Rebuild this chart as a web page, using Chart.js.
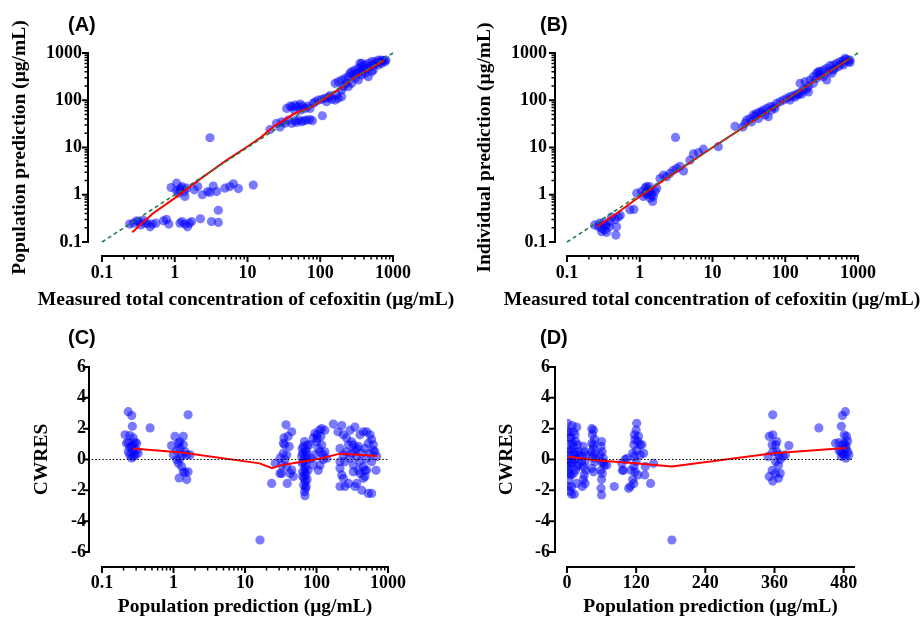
<!DOCTYPE html>
<html>
<head>
<meta charset="utf-8">
<script src="https://cdn.jsdelivr.net/npm/chart.js@4.4.1/dist/chart.umd.min.js"></script>
<style>
  html, body { margin: 0; padding: 0; background: #fff; }
  #wrap { position: relative; width: 923px; height: 618px; }
  canvas { position: absolute; }
</style>
</head>
<body>
<div id="wrap">
  <canvas id="panelA" width="461" height="309" style="left:0;top:0"></canvas>
  <canvas id="panelB" width="462" height="309" style="left:461px;top:0"></canvas>
  <canvas id="panelC" width="461" height="309" style="left:0;top:309px"></canvas>
  <canvas id="panelD" width="462" height="309" style="left:461px;top:309px"></canvas>
</div>
<script>
// tick labels
const logTicks = [0.1, 1, 10, 100, 1000];
const cwresTicks = [-6, -4, -2, 0, 2, 4, 6];
const predTicks = [0, 120, 240, 360, 480];

// (A) measured vs population prediction
const popPredA = [
    [0.24,0.24],[0.27,0.25],[0.30,0.28],[0.32,0.27],[0.34,0.23],[0.37,0.29],[0.39,0.25],[0.42,0.25],
    [0.46,0.21],[0.49,0.24],[0.55,0.25],[0.70,0.28],[0.83,0.24],[0.77,0.30],[1.18,0.25],[1.26,0.27],
    [1.38,0.24],[1.50,0.21],[1.59,0.25],[1.71,0.27],[2.25,0.31],[3.2,0.27],[3.97,0.26],[3.97,0.47],
    [0.89,1.42],[1.06,1.76],[1.18,1.27],[1.26,1.49],[1.35,1.17],[1.12,1.08],[1.38,0.92],[1.21,1.38],
    [1.46,1.38],[1.06,1.23],[1.86,1.27],[2.07,1.49],[2.39,1.0],[2.83,1.17],[3.05,1.12],[3.38,1.53],
    [3.77,1.17],[4.9,1.38],[5.7,1.49],[6.4,1.7],[7.5,1.35],[12.0,1.6],[3.05,16.1],
    [20.4,24],[25,32.5],[28,27],[29.5,35],[32.7,32.5],[36.4,38],[40.5,32.5],[45,37],[47,34],[51,38],
    [55.6,35],[60,37],[65,38],[72,39],[78,37],[107,47],
    [34.5,67],[38.5,75],[41,73],[45,79],[49,73],[53,83],[57,75],[62,67],[67,75],[72,67],[44,62],[54,62],[80,86],
    [85,93],[94,101],[105,105],[116,110],[129,116],[144,105],[160,101],[177,110],[197,119],[122,93],[168,130],[136,125],
    [160,228],[177,247],[197,268],[208,194],[219,291],[231,228],[243,316],[256,371],[270,402],[285,343],
    [300,437],[317,371],[334,474],[352,402],[371,514],[391,437],[412,557],[435,474],[458,604],[483,514],
    [509,655],[537,557],[566,655],[597,604],[629,711],[663,655],[699,711],[737,690],[776,655],[371,604],
    [412,371],[458,316],[509,402],[243,194],[270,228],[197,165],[300,291],[334,268],[371,343],[629,557],
    [699,604],[800,711],[537,437],[352,604]
];
const trendA = [[0.26,0.16],[0.5,0.4],[1,0.85],[2,1.9],[3.3,3.3],[5,5.2],[10,10.5],[15,16],[23,28],[45,53],[70,68],[100,95],[190,180],[300,310],[500,480],[750,700]];

// (B) measured vs individual prediction
const indPredB = [
    [0.24,0.23],[0.27,0.21],[0.30,0.195],[0.33,0.18],[0.35,0.23],[0.39,0.27],[0.41,0.34],[0.46,0.30],
    [0.47,0.14],[0.48,0.21],[0.51,0.34],[0.54,0.37],[0.30,0.165],[0.35,0.16],[0.38,0.21],[0.28,0.25],
    [0.32,0.26],[0.33,0.23],[0.73,0.48],[0.83,0.49],
    [0.91,1.08],[1.06,1.17],[1.18,1.38],[1.24,1.49],[1.31,1.27],[1.38,1.17],[1.46,1.0],[1.50,0.72],
    [1.38,0.85],[1.12,0.92],[1.21,1.08],[1.62,1.17],[1.71,1.38],[1.35,1.49],[1.54,0.92],[1.26,1.0],
    [1.9,2.2],[2.11,2.6],[2.34,2.4],[2.6,2.85],[2.89,3.3],[3.21,3.6],[3.57,4.0],[4.0,3.2],[4.9,5.4],
    [5.45,7.3],[6.4,7.8],[7.5,9.2],[12,10.4],[3.1,16.3],[20.4,28],[26,27],[28,32.5],
    [29.5,38],[32.7,41],[36.4,49],[40.5,53],[45,57],[50,62],[55.6,67],[61.7,73],[68.6,73],[76,86],[85,93],
    [34.5,35],[43,41],[53,49],[58.5,45],[47.5,55],[38.5,46],[65,62],[72,67],
    [94,101],[105,110],[116,119],[129,125],[144,135],[160,145],[177,165],[197,170],[116,101],[152,130],
    [136,116],[168,135],[208,150],
    [160,228],[187,247],[219,268],[243,316],[270,371],[285,402],[300,343],[334,437],[371,474],[391,402],
    [412,540],[458,557],[483,474],[509,604],[566,655],[597,590],[629,690],[699,730],[737,655],[776,711],
    [663,770],[334,316],[371,268],[435,371],[243,228],[300,402],[537,514],[629,557],[776,630],[458,437],
    [270,291],[208,194]
];
const trendB = [[0.26,0.21],[0.5,0.42],[1,0.92],[3,2.9],[10,10],[30,30],[100,100],[300,300],[750,740]];
const identityLine = [[0.1,0.1],[1000,1000]];

// (C) population prediction (log) vs CWRES
const cwresC = [
    [0.233,3.1],[0.26,2.85],[0.266,2.15],[0.21,1.6],[0.245,1.55],[0.22,1.05],[0.233,0.5],[0.245,0.3],
    [0.26,0.1],[0.274,0.95],[0.29,1.1],[0.305,0.6],[0.32,0.4],[0.274,1.4],[0.26,0.85],[0.29,0.3],
    [0.27,0.55],[0.305,1.05],[0.245,0.78],[0.233,1.1],[0.274,0.2],[0.47,2.05],
    [0.94,0.9],[1.05,1.5],[1.17,1.05],[1.23,0.72],[1.37,1.5],[1.3,0.3],[0.995,0.3],[1.11,0.0],
    [1.17,-0.25],[1.23,0.08],[1.3,-0.45],[1.37,-0.8],[1.2,-1.2],[1.45,-0.85],[1.53,-1.3],[1.6,-0.8],
    [1.53,0.3],[1.6,2.9],[1.7,0.3],[1.11,0.6],[1.45,0.5],[1.23,1.15],[1.37,0.95],
    [16.2,-5.22],
    [23.6,-1.55],[26.5,-0.25],[30.9,-0.9],[32.5,-0.35],[34.4,0.4],[35,1.4],[37.5,2.25],[36,0.95],
    [38.3,-0.45],[40,1.5],[42.6,-0.9],[45,1.8],[47.4,-1.1],[39,-1.55],[34.4,1.05],[32.5,-0.9],[36,0.0],
    [41.5,0.85],[38.3,0.3],[30.9,0.1],[45,-0.68],
    [68,1.16],[66,0.85],[70,0.6],[64,0.4],[71.5,0.3],[68,0.08],[66,-0.14],[70.5,-0.36],[69,-0.57],
    [64,-0.8],[71,-1.0],[67,-1.22],[70,-1.44],[66,-1.65],[70.5,-1.87],[68,-2.09],[69,-2.35],[73,0.5],
    [62,0.2],[75,0.0],[63,-0.25],[76,-0.7],[64,-1.1],[74,-1.3],[71.5,-1.75],[63,0.72],[75,0.95],[69.5,-0.8],
    [81,0.95],[90,1.4],[95,1.7],[102,1.6],[110,1.9],[118,2.0],[131,1.9],[100,1.15],[106,0.72],[112,0.5],
    [95,0.3],[118,0.95],[124,0.3],[131,0.5],[106,-0.7],[112,-0.36],[85,0.08],[90,-0.36],[124,0.0],
    [139,0.08],[102,1.37],[115,1.5],
    [172,2.3],[225,2.2],[200,1.8],[237,1.6],[264,1.4],[294,1.9],[310,1.15],[327,0.95],[345,2.1],[365,0.72],
    [406,1.6],[452,1.8],[503,1.8],[560,1.6],[590,1.3],[623,0.95],[655,0.5],[694,0.2],[680,-0.7],
    [213,0.72],[237,0.3],[250,-0.14],[264,0.5],[280,0.95],[294,0.08],[310,0.4],[327,-0.36],[345,0.6],
    [365,0.2],[385,0.85],[406,-0.14],[430,0.4],[452,-0.45],[477,0.72],[503,0.08],[530,1.05],[560,0.4],
    [590,-0.14],[623,0.6],[503,-0.7],[213,-0.14],
    [213,-0.57],[225,-1.0],[213,-1.75],[250,-1.75],[280,-1.55],[345,-1.75],[365,-1.55],[406,-0.9],
    [430,-2.0],[452,-1.22],[477,-0.7],[530,-2.2],[590,-2.2],[385,-0.7],[477,-1.1],[327,-0.8],[237,-1.22]
];
const trendC = [[0.27,0.72],[1.3,0.45],[16,-0.25],[24,-0.57],[31,-0.38],[47,-0.25],[110,0.05],[215,0.38],[500,0.28],[700,0.22]];
const zeroLineC = [[0.072,0],[1000,0]];

// (D) population prediction (linear) vs CWRES
const cwresD = [
    [1,2.35],[3.5,1.8],[5,1.4],[2.3,0.95],[7,0.6],[3.5,0.3],[1,0.0],[5,-0.36],[2.3,-0.7],[7,-1.0],
    [3.5,-1.3],[2.3,-1.75],[5,-2.05],[8,-2.25],[12.7,-2.25],[11,1.8],[14,1.6],[16.8,2.1],[15,1.16],
    [18.5,0.95],[11,0.85],[19.7,0.5],[12.7,0.3],[16.8,0.08],[9,-0.25],[19.7,-0.36],[15,-0.7],[11,-0.9],
    [16.8,-1.55],[8,-1.75],[7,1.4],[9,1.05],[2.3,0.5],[6,-0.14],[11.5,0.0],[0,-0.45],[4.5,-0.9],[14,0.5],
    [17,-0.45],[21,0.3],[0,1.8],[9,2.2],
    [28,0.85],[30,0.5],[26.6,0.2],[31.3,-0.14],[28.4,-0.45],[32.5,-0.7],[30,-1.0],[28.4,-1.3],
    [31.3,-1.55],[26.6,-1.75],[34,0.3],[25.5,-0.14],
    [43,2.0],[46,1.9],[44,1.6],[48,1.3],[43,1.05],[46,0.72],[48.7,0.4],[44,0.2],[48,-0.14],[43,-0.57],
    [46,-0.8],[48.7,0.08],[42,0.5],[46,0.95],
    [60,1.16],[59,0.85],[61,0.5],[57.5,0.3],[63,0.08],[60,-0.14],[65,-0.36],[59,-0.7],[61,-0.9],
    [60,-1.3],[59,-1.87],[60,-2.3],[63,-0.25],[69,-0.36],
    [82,-1.75],
    [95,-0.25],[98,-0.7],[101,0.0],[104,0.08],[107,-1.87],[110,-1.75],[111,-0.7],[114,0.4],[116,0.95],
    [117,1.6],[120,1.9],[121,2.35],[118,1.3],[123,1.16],[124,1.5],[127,0.95],[121,0.6],[117,0.2],
    [120,-0.14],[116,-0.45],[118,-0.8],[123,-1.0],[116,-1.55],[114,-1.3],[130,0.95],[133,0.4],
    [136,-0.45],[135,-1.0],[145,-1.55],[150,-0.25],[96,-0.7],[127,0.3],
    [182,-5.22],
    [357,2.9],[351,1.5],[357,1.6],[349,0.2],[356,0.95],[362,0.95],[364,0.5],[357,0.5],[367,0.3],
    [370,0.0],[362,-0.14],[367,-0.36],[356,-0.7],[362,-0.9],[351,-1.1],[357,-1.4],[367,-1.22],
    [370,-0.9],[379,0.3],[385,0.9],[375,0.2],[364,1.16],
    [437,2.05],
    [483,3.1],[478,2.85],[476,2.15],[481,1.6],[485,1.5],[466,1.05],[472,1.1],[479,0.95],[484,0.72],
    [487,1.2],[475,0.5],[481,0.3],[489,0.3],[476,0.2],[484,0.08],[472,0.6],[481,1.05],[487,0.5],
    [478,0.4],[484,0.9]
];
const trendD = [[2,0.18],[50,-0.05],[118,-0.25],[182,-0.45],[358,0.4],[484,0.74]];
const zeroLineD = [[0,0],[498,0]];

const serif = '"Liberation Serif", "Times New Roman", serif';
const tickFont = { family: serif, size: 18, weight: 'bold' };
const titleFont = { family: serif, size: 19.5, weight: 'bold', lineHeight: 1 };

const toXY = (pairs) => pairs.map(([x, y]) => ({ x, y }));

// Prism-style detached axes with outward ticks
const prismAxes = {
    id: 'prismAxes',
    afterDatasetsDraw(chart, args, opts) {
        const { ctx, chartArea, scales } = chart;
        const xs = scales.x;
        const ys = scales.y;
        const axisX = chartArea.left - opts.yGap;
        const axisY = chartArea.bottom + opts.xGap;

        ctx.save();
        ctx.strokeStyle = '#000';
        ctx.lineWidth = 2;
        ctx.beginPath();
        ctx.moveTo(axisX, ys.top - 1);
        ctx.lineTo(axisX, ys.bottom + 1);
        ctx.moveTo(xs.left - 1, axisY);
        ctx.lineTo(xs.right + 1, axisY);
        ctx.stroke();

        const drawTicks = (scale, values, len, width) => {
            ctx.lineWidth = width;
            ctx.beginPath();
            values.forEach((v) => {
                const p = scale.getPixelForValue(v);
                if (scale === xs) {
                    ctx.moveTo(p, axisY);
                    ctx.lineTo(p, axisY + len);
                } else {
                    ctx.moveTo(axisX, p);
                    ctx.lineTo(axisX - len, p);
                }
            });
            ctx.stroke();
        };
        const minorOf = (majors) => {
            const out = [];
            for (let i = 0; i < majors.length - 1; i++) {
                for (let k = 2; k <= 9; k++) out.push(majors[i] * k);
            }
            return out;
        };

        const xMajor = xs.ticks.map((t) => t.value);
        const yMajor = ys.ticks.map((t) => t.value);
        drawTicks(xs, xMajor, 6, 2);
        drawTicks(ys, yMajor, 6, 2);
        if (opts.xMinor) drawTicks(xs, minorOf(xMajor), 3.5, 1.5);
        if (opts.yMinor) drawTicks(ys, minorOf(yMajor), 3.5, 1.5);
        ctx.restore();
    },
};

// panel letter, plus a long x title that must not be squeezed to the axis width
const panelText = {
    id: 'panelText',
    afterDraw(chart, args, opts) {
        const ctx = chart.ctx;
        ctx.save();
        ctx.fillStyle = '#000';
        ctx.font = 'bold 20px "Liberation Sans", Arial, sans-serif';
        ctx.textAlign = 'left';
        ctx.textBaseline = 'alphabetic';
        ctx.fillText(opts.letter, opts.lx, opts.ly);
        if (opts.xTitle) {
            ctx.font = 'bold 19.5px ' + serif;
            ctx.textAlign = 'center';
            ctx.textBaseline = 'middle';
            ctx.fillText(opts.xTitle, opts.tx, opts.ty);
        }
        ctx.restore();
    },
};

Chart.register(prismAxes, panelText);

function pointSet(pairs) {
    return {
        data: toXY(pairs),
        backgroundColor: 'rgba(0, 0, 255, 0.52)',
        borderWidth: 0,
        pointRadius: 4.6,
        pointHoverRadius: 4.6,
        order: 2,
    };
}

function lineSet(pairs, color, width, dash) {
    return {
        data: toXY(pairs),
        showLine: true,
        borderColor: color,
        borderWidth: width,
        borderDash: dash || [],
        pointRadius: 0,
        fill: false,
        clip: false,
        order: 1,
    };
}

function axis(cfg) {
    return {
        type: cfg.type,
        min: cfg.min,
        max: cfg.max,
        afterBuildTicks: (s) => { s.ticks = cfg.ticks.map((v) => ({ value: v })); },
        afterFit: (s) => {
            if (cfg.width) s.width = cfg.width;
            if (cfg.height) s.height = cfg.height;
        },
        grid: { display: false, drawTicks: false },
        border: { display: false },
        ticks: {
            font: tickFont,
            color: '#000',
            padding: cfg.pad,
            autoSkip: false,
            maxRotation: 0,
            callback: (v) => String(v),
        },
        title: {
            display: Boolean(cfg.title),
            text: cfg.title || '',
            font: titleFont,
            color: '#000',
            padding: { top: cfg.titlePad || 0, bottom: cfg.titleBottom || 0 },
        },
    };
}

function makePanel(id, datasets, scales, padding, axesOpts, text) {
    return new Chart(document.getElementById(id), {
        type: 'scatter',
        data: { datasets },
        options: {
            responsive: false,
            animation: false,
            layout: { padding },
            scales,
            plugins: {
                legend: { display: false },
                tooltip: { enabled: false },
                prismAxes: axesOpts,
                panelText: text,
            },
        },
    });
}

const concTitle = 'Measured total concentration of cefoxitin (μg/mL)';

makePanel('panelA', [
    lineSet(identityLine, '#1f7a40', 1.5, [4, 3]),
    lineSet(trendA, '#ff0000', 2),
    pointSet(popPredA),
], {
    x: axis({ type: 'logarithmic', min: 0.1, max: 1000, ticks: logTicks, height: 67, pad: 21 }),
    y: axis({ type: 'logarithmic', min: 0.1, max: 1000, ticks: logTicks, width: 102, pad: 20, title: 'Population prediction (μg/mL)', titlePad: 10.5 }),
}, { left: 0, right: 68, top: 53, bottom: 0 }, { xGap: 14, yGap: 14, xMinor: true, yMinor: true },
{ letter: '(A)', lx: 68, ly: 31, xTitle: concTitle, tx: 246, ty: 300 });

makePanel('panelB', [
    lineSet(identityLine, '#1f7a40', 1.5, [4, 3]),
    lineSet(trendB, '#ff0000', 2),
    pointSet(indPredB),
], {
    x: axis({ type: 'logarithmic', min: 0.1, max: 1000, ticks: logTicks, height: 67, pad: 21 }),
    y: axis({ type: 'logarithmic', min: 0.1, max: 1000, ticks: logTicks, width: 106, pad: 20, title: 'Individual prediction (μg/mL)', titlePad: 14 }),
}, { left: 0, right: 65, top: 53, bottom: 0 }, { xGap: 14, yGap: 12, xMinor: true, yMinor: true },
{ letter: '(B)', lx: 79, ly: 31, xTitle: concTitle, tx: 251, ty: 300 });

makePanel('panelC', [
    lineSet(zeroLineC, '#000000', 1, [1.5, 2]),
    lineSet(trendC, '#ff0000', 2),
    pointSet(cwresC),
], {
    x: axis({ type: 'logarithmic', min: 0.1, max: 1000, ticks: logTicks, height: 66, pad: 21, title: 'Population prediction (μg/mL)', titleBottom: 1 }),
    y: axis({ type: 'linear', min: -6, max: 6, ticks: cwresTicks, width: 102, pad: 16, title: 'CWRES', titlePad: 32 }),
}, { left: 0, right: 73, top: 58, bottom: 0 }, { xGap: 15, yGap: 13, xMinor: true, yMinor: false },
{ letter: '(C)', lx: 68, ly: 35 });

makePanel('panelD', [
    lineSet(zeroLineD, '#000000', 1, [1.5, 2]),
    lineSet(trendD, '#ff0000', 2),
    pointSet(cwresD),
], {
    x: axis({ type: 'linear', min: 0, max: 498, ticks: predTicks, height: 66, pad: 21, title: 'Population prediction (μg/mL)', titleBottom: 1 }),
    y: axis({ type: 'linear', min: -6, max: 6, ticks: cwresTicks, width: 106, pad: 17, title: 'CWRES', titlePad: 36 }),
}, { left: 0, right: 69, top: 58, bottom: 0 }, { xGap: 15, yGap: 12, xMinor: false, yMinor: false },
{ letter: '(D)', lx: 79, ly: 35 });
</script>
</body>
</html>
